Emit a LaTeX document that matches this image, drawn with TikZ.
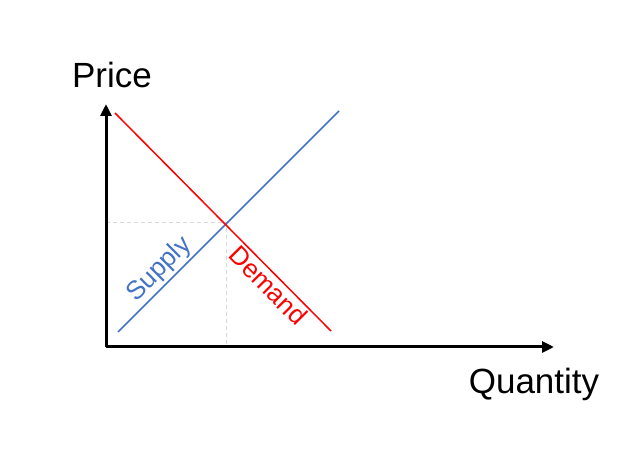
\documentclass[tikz,border=0pt]{standalone}
\usepackage{fontspec}
\setmainfont{Liberation Sans}
\usetikzlibrary{arrows.meta}
\definecolor{supplyblue}{HTML}{4472C4}
\definecolor{guidegray}{HTML}{D9D9D9}

\begin{document}
\begin{tikzpicture}[
  x=1pt, y=-1pt,
  axis/.style={line width=3pt, -{Triangle[length=12pt,width=11pt]}},
  curve/.style={line width=1.5pt},
  guide/.style={guidegray, line width=0.9pt, dash pattern=on 4pt off 3pt},
  axislabel/.style={font=\fontsize{35}{42}\selectfont, anchor=base},
  curvelabel/.style={font=\fontsize{26}{31}\selectfont, sloped, inner sep=2pt}
]
\useasboundingbox (0,0) rectangle (633,468);
\coordinate (o) at (106,347);
\coordinate (ytip) at (106,104);
\coordinate (xtip) at (554,347);
\coordinate (eq) at (226,222);
\coordinate (s1) at (118,332);
\coordinate (s2) at (339,111);
\coordinate (d1) at (115,113);
\coordinate (d2) at (331,331);
\draw[guide] (o |- eq) -- (eq) -- (eq |- o);
\draw[curve, supplyblue] (s1) -- node[curvelabel, pos=0.235, above] {Supply} (s2);
\draw[curve, red] (d1) -- node[curvelabel, pos=0.75, below] {Demand} (d2);
\draw[axis] (o) -- (ytip);
\draw[axis] (o) -- (xtip);
\node[axislabel] (price) at (112,88) {Price};
\node[axislabel] (qty) at (534,394) {Quantity};
\end{tikzpicture}
\end{document}
